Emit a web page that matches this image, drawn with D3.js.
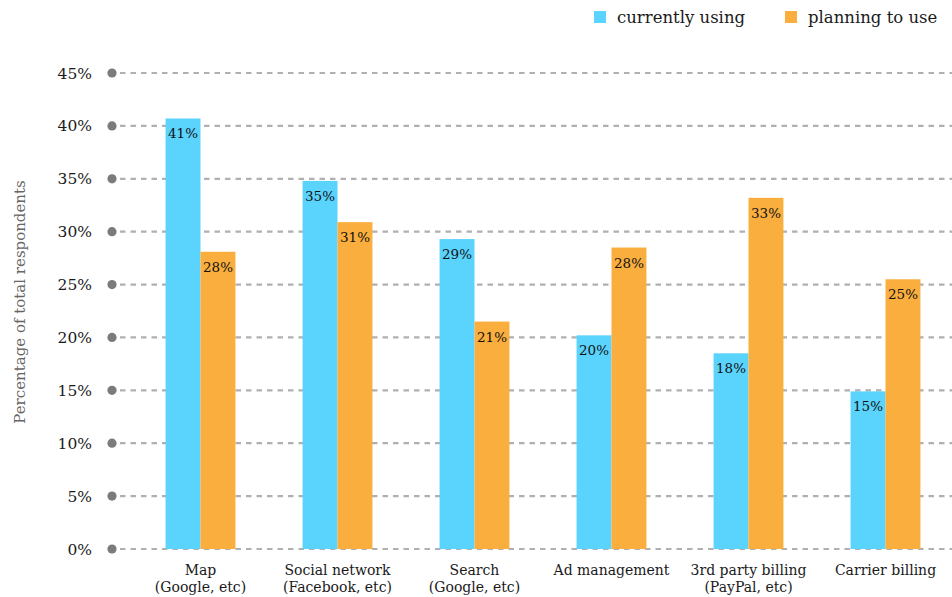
<!DOCTYPE html>
<html><head><meta charset="utf-8">
<script src="https://cdn.jsdelivr.net/npm/d3@7"></script>
<style>
html,body{margin:0;padding:0;background:#fff;}
svg{display:block;font-family:"DejaVu Serif",serif;}
</style></head>
<body>
<svg id="chart" width="952" height="597"></svg>
<script>
const categories = ["Map|(Google, etc)", "Social network|(Facebook, etc)", "Search|(Google, etc)", "Ad management", "3rd party billing|(PayPal, etc)", "Carrier billing"];
const seriesNames = ["currently using", "planning to use"];
const currentlyUsing = [40.7, 34.8, 29.3, 20.2, 18.5, 14.9];
const planningToUse = [28.1, 30.9, 21.5, 28.5, 33.2, 25.5];
const currentlyLabels = ["41%", "35%", "29%", "20%", "18%", "15%"];
const planningLabels = ["28%", "31%", "21%", "28%", "33%", "25%"];
const yTicks = [0, 5, 10, 15, 20, 25, 30, 35, 40, 45];
const colors = ["#5AD3FD", "#F9AE3E"];

const svg = d3.select("#chart");
const y = d3.scaleLinear().domain([0, 45]).range([549, 73]);
const x = d3.scaleBand().domain(categories).range([132, 954]).paddingInner(0.49).paddingOuter(0.245);
const xs = d3.scaleBand().domain(seriesNames).range([0, x.bandwidth()]);

// grid
const grid = svg.append("g");
yTicks.forEach(t => {
  grid.append("line").attr("x1", 120).attr("x2", 952).attr("y1", y(t)).attr("y2", y(t))
    .attr("stroke", "#b0b0b0").attr("stroke-width", 2.2).attr("stroke-dasharray", "5.5,5");
  grid.append("circle").attr("cx", 112).attr("cy", y(t)).attr("r", 4.6).attr("fill", "#7b7b7d");
  grid.append("text").attr("x", 92).attr("y", y(t)).attr("dy", "0.36em").attr("text-anchor", "end")
    .attr("font-size", 15.5).attr("fill", "#1a1a1a").text(t + "%");
});

// bars
const data = categories.map((c, i) => ({c, vals: [
  {s: seriesNames[0], v: currentlyUsing[i], l: currentlyLabels[i]},
  {s: seriesNames[1], v: planningToUse[i], l: planningLabels[i]}]}));
const groups = svg.append("g").selectAll("g").data(data).join("g")
  .attr("transform", d => `translate(${x(d.c)},0)`);
groups.selectAll("rect").data(d => d.vals).join("rect")
  .attr("x", d => xs(d.s)).attr("width", xs.bandwidth())
  .attr("y", d => y(d.v)).attr("height", d => y(0) - y(d.v))
  .attr("fill", (d, i) => colors[i]);
groups.selectAll("text.val").data(d => d.vals).join("text").attr("class", "val")
  .attr("x", d => xs(d.s) + xs.bandwidth() / 2).attr("y", d => y(d.v) + 20)
  .attr("text-anchor", "middle").attr("font-size", 13.5).attr("fill", "#111").text(d => d.l);

// x labels
const xl = svg.append("g");
categories.forEach(c => {
  const lines = c.split("|");
  const t = xl.append("text").attr("x", x(c) + x.bandwidth() / 2).attr("y", 575)
    .attr("text-anchor", "middle").attr("font-size", 14).attr("fill", "#1a1a1a");
  lines.forEach((ln, j) => t.append("tspan").attr("x", x(c) + x.bandwidth() / 2).attr("dy", j ? 17 : 0).text(ln));
});

// y title
svg.append("text").attr("transform", "translate(25,302) rotate(-90)").attr("text-anchor", "middle")
  .attr("font-size", 15).attr("fill", "#666").text("Percentage of total respondents");

// legend
const legendX = [594, 785];
seriesNames.forEach((s, i) => {
  svg.append("rect").attr("x", legendX[i]).attr("y", 11).attr("width", 12).attr("height", 12).attr("fill", colors[i]);
  svg.append("text").attr("x", legendX[i] + 23).attr("y", 23).attr("font-size", 16.5).attr("fill", "#1a1a1a").text(s);
});
</script>
</body></html>
